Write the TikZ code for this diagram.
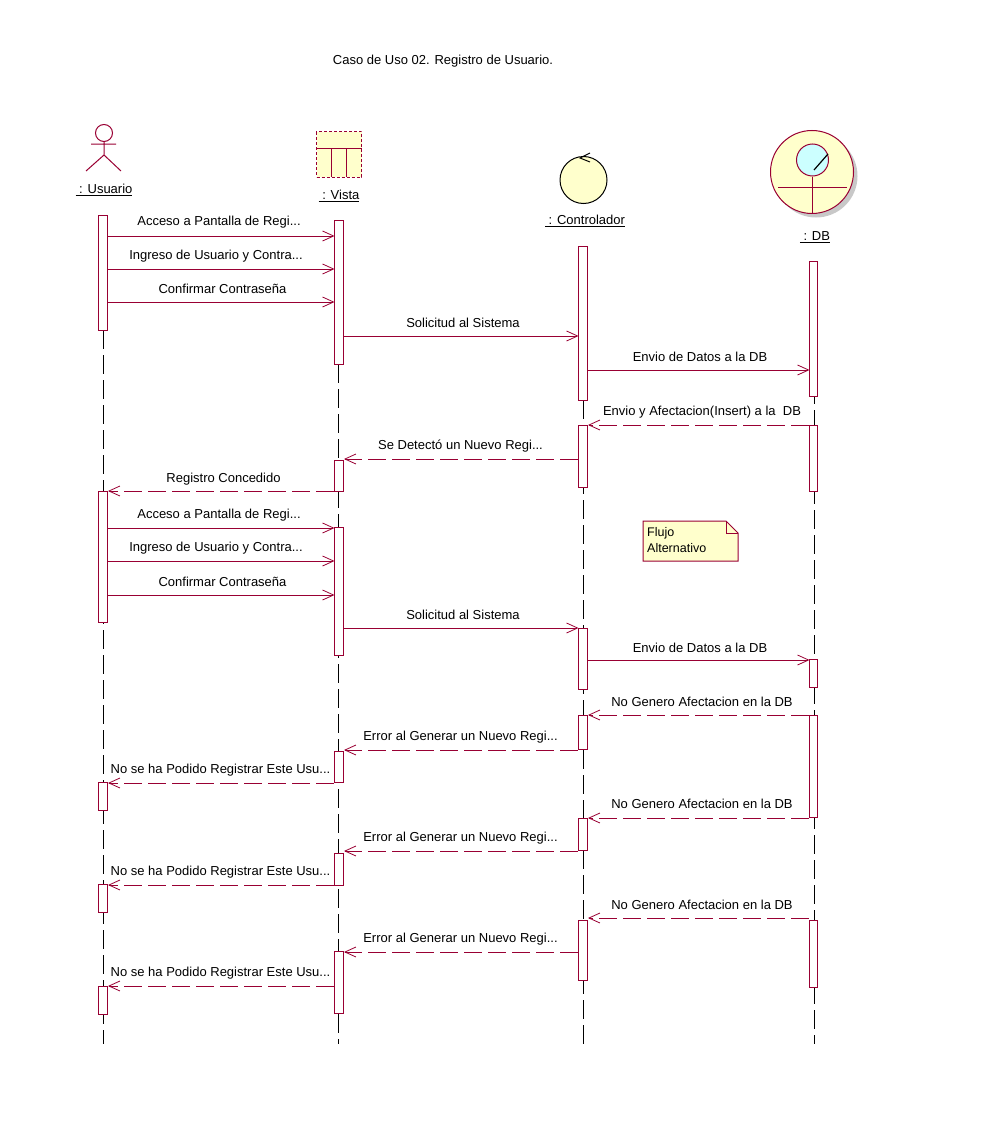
\documentclass[tikz,border=0pt]{standalone}
\usepackage{fontspec}
\setmainfont{Liberation Sans}
\usepackage{xcolor}
\definecolor{colorLine}{HTML}{990033}
\definecolor{colorFill}{HTML}{FFFFCC}
\definecolor{colorGlass}{HTML}{CCFFFF}
\definecolor{colorShadow}{HTML}{C8C8C8}
\usetikzlibrary{arrows.meta}
\tikzset{
  bar/.style={draw=colorLine, fill=white, line width=1pt, minimum width=9pt, inner sep=0pt},
  life/.style={black, line width=1pt, dash pattern=on 19pt off 6pt},
  msg/.style={colorLine, line width=1pt, shorten >=-1pt, -{Straight Barb[length=11pt,width=10pt,line width=0.8pt]}},
  ret/.style={msg, shorten >=0.5pt, dash pattern=on 18pt off 6pt},
  lab/.style={black, font=\fontsize{13}{15}\selectfont, inner sep=0pt, yshift=13pt},
  obj/.style={black, font=\fontsize{13}{15}\selectfont, inner sep=0pt}
}

\begin{document}
\begin{tikzpicture}[x=1pt, y=-1pt]
\useasboundingbox (0,0) rectangle (1000,1129);
\node[obj] (title) at (443,61) {Caso de Uso 02. Registro de Usuario.};
% actor
\node[circle, draw=colorLine, line width=1pt, minimum size=17pt, inner sep=0pt] (head) at (104,133) {};
\draw [colorLine, line width=1pt] (91,144) -- (116,144) (head.south) -- (104,155) -- (86,171) (104,155) -- (121,171);
\node[obj] (usuario) at (104,190) {\underline{\ : Usuario}};
% boundary
\node[draw=colorLine, fill=colorFill, line width=1pt, dash pattern=on 3pt off 2pt, minimum width=45pt, minimum height=45pt, inner sep=0pt] (tabla) at (339,154.5) {};
\draw [colorLine, line width=1pt] (tabla.west |- 0,148) -- (tabla.east |- 0,148) (331.5,148) -- (331.5,177) (346.5,148) -- (346.5,177);
\node[obj] (vista) at (339,196) {\underline{\ : Vista}};
% control
\node[circle, draw=black, fill=colorFill, line width=1pt, minimum size=47pt, inner sep=0pt] (ctrl) at (583.5,180) {};
\draw [black, line width=1pt] (590,153) -- (580,158) -- (590,162);
\node[obj] (controlador) at (585,221) {\underline{\ : Controlador}};
% entity
\fill [colorShadow] (816,176) circle (41.5pt);
\node[circle, draw=colorLine, fill=colorFill, line width=1pt, minimum size=83pt, inner sep=0pt] (ent) at (812,172) {};
\node[circle, draw=colorLine, fill=colorGlass, line width=1pt, minimum size=32pt, inner sep=0pt] (glass) at (812.5,160) {};
\draw [black, line width=1.2pt] (814,170) -- (828,154);
\draw [colorLine, line width=1pt] (glass.south) -- (812.5,213) (778,187) -- (847,187);
\node[obj] (db) at (815,237) {\underline{\ : DB}};
% lifelines
\coordinate (uTop) at (103,330);
\coordinate (uEnd) at (103,1044);
\coordinate (vTop) at (338.5,364);
\coordinate (vEnd) at (338.5,1044);
\coordinate (cTop) at (583,400);
\coordinate (cEnd) at (583,1044);
\coordinate (dTop) at (814,385);
\coordinate (dEnd) at (814,1044);
\draw [life] (uTop) -- (uEnd);
\draw [life] (vTop) -- (vEnd);
\draw [life] (cTop) -- (cEnd);
\draw [life] (dTop) -- (dEnd);
% activations
\node[bar, minimum height=115pt] (u1) at (102.5,272.5) {};
\node[bar, minimum height=131pt] (u2) at (102.5,556.5) {};
\node[bar, minimum height=28pt] (u3) at (102.5,796) {};
\node[bar, minimum height=28pt] (u4) at (102.5,898) {};
\node[bar, minimum height=28pt] (u5) at (102.5,1000) {};
\node[bar, minimum height=144pt] (v1) at (338.5,292) {};
\node[bar, minimum height=31pt] (v2) at (338.5,475.5) {};
\node[bar, minimum height=128pt] (v3) at (338.5,591) {};
\node[bar, minimum height=31pt] (v4) at (338.5,766.5) {};
\node[bar, minimum height=32pt] (v5) at (338.5,869) {};
\node[bar, minimum height=62pt] (v6) at (338.5,982) {};
\node[bar, minimum height=154pt] (c1) at (582.5,323) {};
\node[bar, minimum height=62pt] (c2) at (582.5,456) {};
\node[bar, minimum height=61pt] (c3) at (582.5,658.5) {};
\node[bar, minimum height=34pt] (c4) at (582.5,732) {};
\node[bar, minimum height=32pt] (c5) at (582.5,834) {};
\node[bar, minimum height=60pt] (c6) at (582.5,950) {};
\node[bar, minimum width=8pt, minimum height=135pt] (d1) at (813,328.5) {};
\node[bar, minimum width=8pt, minimum height=66pt] (d2) at (813,458) {};
\node[bar, minimum width=8pt, minimum height=28pt] (d3) at (813,673) {};
\node[bar, minimum width=8pt, minimum height=102pt] (d4) at (813,766) {};
\node[bar, minimum width=8pt, minimum height=67pt] (d5) at (813,953.5) {};
% messages
\draw [msg] (u1.east |- 0,236) -- node [lab, xshift=-1.5pt, yshift=1pt] (m1) {Acceso a Pantalla de Regi...} (v1.west |- 0,236);
\draw [msg] (u1.east |- 0,269) -- node [lab, xshift=-4.5pt] (m2) {Ingreso de Usuario y Contra...} (v1.west |- 0,269);
\draw [msg] (u1.east |- 0,302) -- node [lab, xshift=2pt] (m3) {Confirmar Contraseña} (v1.west |- 0,302);
\draw [msg] (v1.east |- 0,336) -- node [lab, xshift=2.5pt] (m4) {Solicitud al Sistema} (c1.west |- 0,336);
\draw [msg] (c1.east |- 0,370) -- node [lab, xshift=2pt] (m5) {Envio de Datos a la DB} (d1.west |- 0,370);
\draw [ret] (d2.west |- 0,425) -- node [lab, xshift=4pt] (m6) {Envio y Afectacion(Insert) a la\ \ DB} (c2.east |- 0,425);
\draw [ret] (c2.west |- 0,459) -- node [lab] (m7) {Se Detectó un Nuevo Regi...} (v2.east |- 0,459);
\draw [ret] (v2.west |- 0,491) -- node [lab, xshift=3pt, yshift=-1pt] (m8) {Registro Concedido} (u2.east |- 0,491);
\draw [msg] (u2.east |- 0,528) -- node [lab, xshift=-1.5pt] (m9) {Acceso a Pantalla de Regi...} (v3.west |- 0,528);
\draw [msg] (u2.east |- 0,561) -- node [lab, xshift=-4.5pt] (m10) {Ingreso de Usuario y Contra...} (v3.west |- 0,561);
\draw [msg] (u2.east |- 0,595) -- node [lab, xshift=2pt] (m11) {Confirmar Contraseña} (v3.west |- 0,595);
\draw [msg] (v3.east |- 0,628) -- node [lab, xshift=2.5pt] (m12) {Solicitud al Sistema} (c3.west |- 0,628);
\draw [msg] (c3.east |- 0,660) -- node [lab, xshift=2pt, yshift=-1pt] (m13) {Envio de Datos a la DB} (d3.west |- 0,660);
\draw [ret] (d4.west |- 0,715) -- node [lab, xshift=4pt] (m14) {No Genero Afectacion en la DB} (c4.east |- 0,715);
\draw [ret] (c4.west |- 0,750) -- node [lab] (m15) {Error al Generar un Nuevo Regi...} (v4.east |- 0,750);
\draw [ret] (v4.west |- 0,783) -- node [lab] (m16) {No se ha Podido Registrar Este Usu...} (u3.east |- 0,783);
\draw [ret] (d4.west |- 0,818) -- node [lab, xshift=4pt, yshift=1pt] (m17) {No Genero Afectacion en la DB} (c5.east |- 0,818);
\draw [ret] (c5.west |- 0,851) -- node [lab] (m18) {Error al Generar un Nuevo Regi...} (v5.east |- 0,851);
\draw [ret] (v5.west |- 0,885) -- node [lab] (m19) {No se ha Podido Registrar Este Usu...} (u4.east |- 0,885);
\draw [ret] (d5.west |- 0,918) -- node [lab, xshift=4pt] (m20) {No Genero Afectacion en la DB} (c6.east |- 0,918);
\draw [ret] (c6.west |- 0,952) -- node [lab] (m21) {Error al Generar un Nuevo Regi...} (v6.east |- 0,952);
\draw [ret] (v6.west |- 0,986) -- node [lab] (m22) {No se ha Podido Registrar Este Usu...} (u5.east |- 0,986);
% note
\coordinate (nA) at (643,521);
\coordinate (nB) at (726,521);
\coordinate (nC) at (738,533);
\coordinate (nD) at (738,561);
\coordinate (nE) at (643,561);
\coordinate (nF) at (726,533);
\draw [colorLine, fill=colorFill, line width=1pt] (nA) -- (nB) -- (nC) -- (nD) -- (nE) -- cycle;
\draw [colorLine, line width=1pt] (nB) -- (nF) -- (nC);
\node[obj, align=left, anchor=north west, font=\fontsize{12.5}{16}\selectfont] (nota) at (647,527) {Flujo\\Alternativo};
\end{tikzpicture}
\end{document}
